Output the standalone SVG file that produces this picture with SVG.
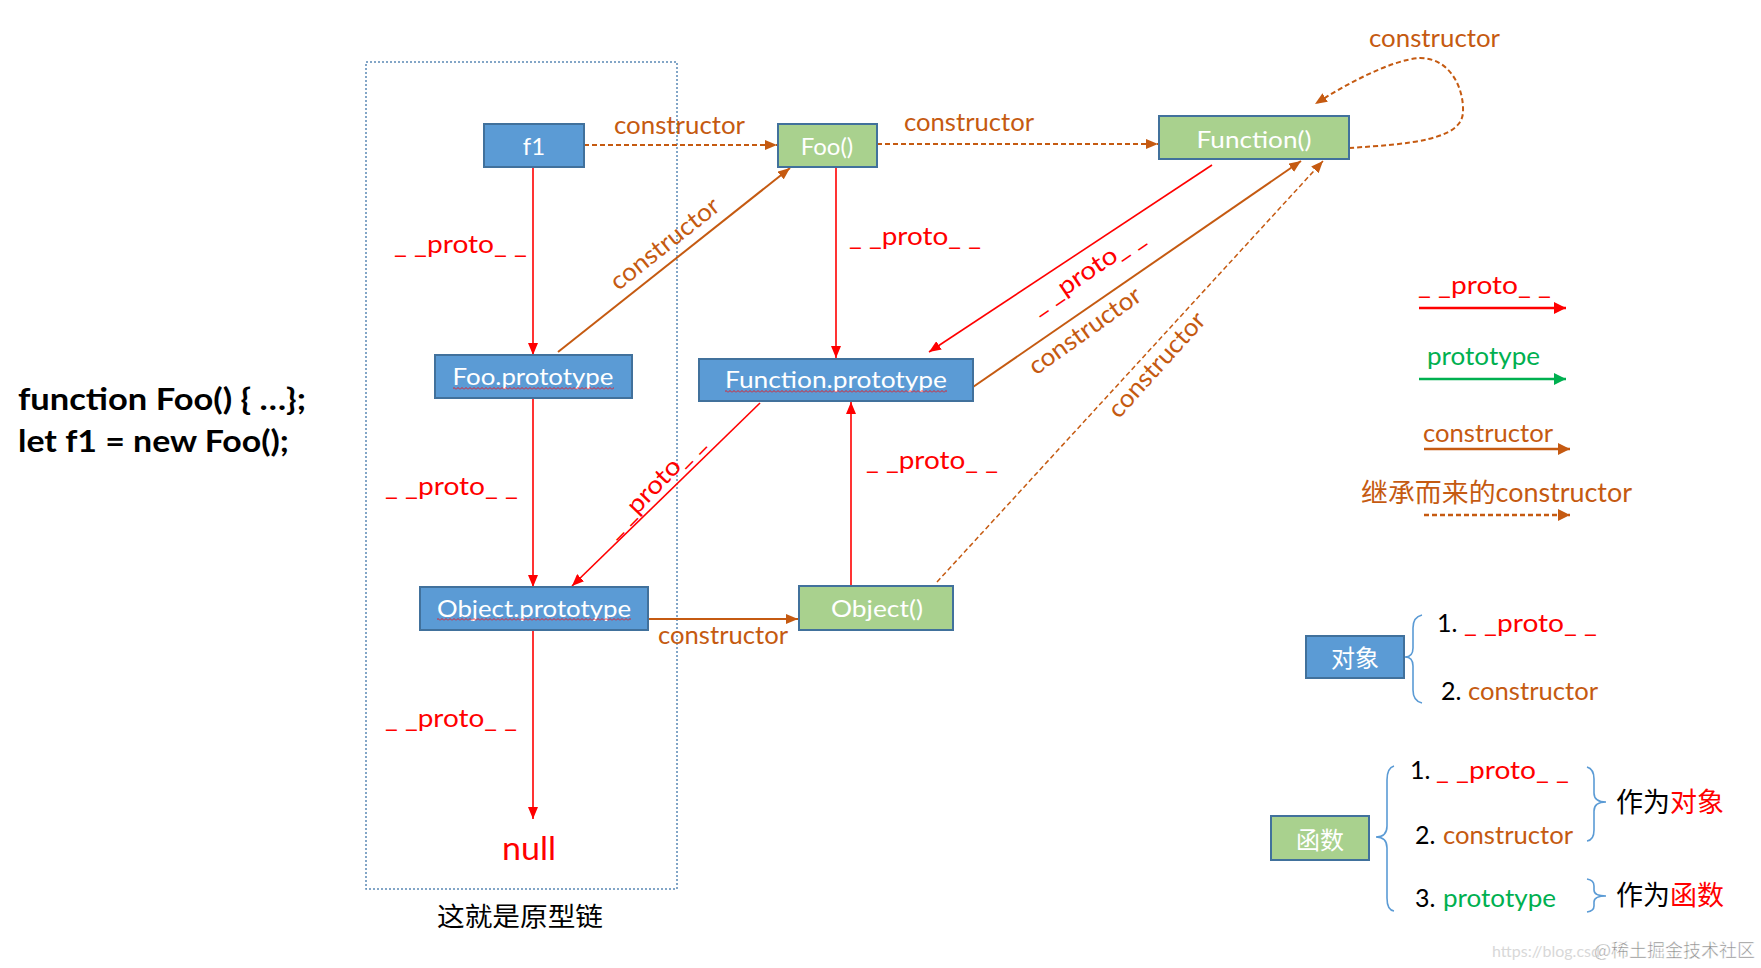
<svg xmlns="http://www.w3.org/2000/svg" width="1761" height="968" viewBox="0 0 1761 968">
<style>
.t{font-family:Lato,"Noto Sans CJK SC","Liberation Sans",sans-serif}
.cjk{font-family:"Noto Sans CJK SC",sans-serif}
.w{fill:#FFFFFF;font-size:24px;text-anchor:middle}
.red{fill:#FF0000}
.brn{fill:#C55A11}
.grn{fill:#00B050}
.blk{fill:#000000}
.lbl{font-size:25px}
.bbox{fill:#5B9BD5;stroke:#41719C;stroke-width:2}
.gbox{fill:#A9D18E;stroke:#41719C;stroke-width:2}
.lr{stroke:#FF0000;stroke-width:1.6;fill:none}
.lb{stroke:#C55A11;stroke-width:2;fill:none}
.lbd{stroke:#C55A11;stroke-width:2;fill:none;stroke-dasharray:5 3}
.lbt{stroke:#C55A11;stroke-width:1.5;fill:none;stroke-dasharray:5 3}
.brace{stroke:#5B9BD5;stroke-width:1.6;fill:none}
</style>
<defs>
<marker id="aR" markerUnits="userSpaceOnUse" markerWidth="13" markerHeight="10" refX="12" refY="5" orient="auto"><path d="M0,0 L12,5 L0,10 z" fill="#FF0000"/></marker>
<marker id="aB" markerUnits="userSpaceOnUse" markerWidth="13" markerHeight="10" refX="12" refY="5" orient="auto"><path d="M0,0 L12,5 L0,10 z" fill="#C55A11"/></marker>
<marker id="aRL" markerUnits="userSpaceOnUse" markerWidth="13" markerHeight="12" refX="12" refY="6" orient="auto"><path d="M0,0 L12,6 L0,12 z" fill="#FF0000"/></marker>
<marker id="aGL" markerUnits="userSpaceOnUse" markerWidth="13" markerHeight="12" refX="12" refY="6" orient="auto"><path d="M0,0 L12,6 L0,12 z" fill="#00B050"/></marker>
<marker id="aBL" markerUnits="userSpaceOnUse" markerWidth="13" markerHeight="12" refX="12" refY="6" orient="auto"><path d="M0,0 L12,6 L0,12 z" fill="#C55A11"/></marker>
<pattern id="sq" width="4" height="3" patternUnits="userSpaceOnUse"><path d="M0,2.5 L2,0.5 L4,2.5" fill="none" stroke="#FF0000" stroke-width="0.8"/></pattern>
</defs>
<rect width="1761" height="968" fill="#FFFFFF"/>

<g id="code" class="t" font-weight="bold" font-size="31">
<text x="18" y="410" textLength="288" lengthAdjust="spacingAndGlyphs">function Foo() { …};</text>
<text x="18" y="452" textLength="271" lengthAdjust="spacingAndGlyphs">let f1 = new Foo();</text>
</g>

<g id="chain">
<rect x="366" y="62" width="311" height="827" fill="none" stroke="#5B89B5" stroke-width="1.5" stroke-dasharray="2 2"/>
<text x="520" y="926" class="cjk blk" font-size="26" text-anchor="middle" textLength="166" lengthAdjust="spacingAndGlyphs">这就是原型链</text>
</g>

<g id="connectors">
<line x1="584" y1="145" x2="777" y2="145" class="lbd" marker-end="url(#aB)"/>
<line x1="877" y1="144" x2="1158" y2="144" class="lbd" marker-end="url(#aB)"/>
<path d="M1349,148 C1410,144 1462,140 1463,112 C1464,88 1450,58 1420,58 C1390,60 1345,85 1315,104" class="lbd" marker-end="url(#aB)"/>
<line x1="533" y1="167" x2="533" y2="355" class="lr" marker-end="url(#aR)"/>
<line x1="533" y1="398" x2="533" y2="587" class="lr" marker-end="url(#aR)"/>
<line x1="533" y1="630" x2="533" y2="819" class="lr" marker-end="url(#aR)"/>
<line x1="558" y1="352" x2="790" y2="168" class="lb" marker-end="url(#aB)"/>
<line x1="836" y1="167" x2="836" y2="358" class="lr" marker-end="url(#aR)"/>
<line x1="1212" y1="165" x2="929" y2="352" class="lr" marker-end="url(#aR)"/>
<line x1="973" y1="387" x2="1301" y2="161" class="lb" marker-end="url(#aB)"/>
<line x1="937" y1="582" x2="1323" y2="161" class="lbt" marker-end="url(#aB)"/>
<line x1="760" y1="403" x2="572" y2="586" class="lr" marker-end="url(#aR)"/>
<line x1="851" y1="586" x2="851" y2="402" class="lr" marker-end="url(#aR)"/>
<line x1="648" y1="619" x2="798" y2="619" class="lb" marker-end="url(#aB)"/>
</g>

<g id="connector-labels" class="t lbl">
<text x="614" y="134" class="brn" textLength="131" lengthAdjust="spacingAndGlyphs">constructor</text>
<text x="904" y="131" class="brn" textLength="130" lengthAdjust="spacingAndGlyphs">constructor</text>
<text x="1369" y="47" class="brn" textLength="131" lengthAdjust="spacingAndGlyphs">constructor</text>
<text x="394" y="253" class="red" textLength="133" lengthAdjust="spacingAndGlyphs">_ _proto_ _</text>
<text x="849" y="245" class="red" textLength="132" lengthAdjust="spacingAndGlyphs">_ _proto_ _</text>
<text x="385" y="495" class="red" textLength="133" lengthAdjust="spacingAndGlyphs">_ _proto_ _</text>
<text x="866" y="469" class="red" textLength="132" lengthAdjust="spacingAndGlyphs">_ _proto_ _</text>
<text x="385" y="727" class="red" textLength="132" lengthAdjust="spacingAndGlyphs">_ _proto_ _</text>
<text x="658" y="644" class="brn" textLength="130" lengthAdjust="spacingAndGlyphs">constructor</text>
<text transform="translate(665,244) rotate(-38.5)" y="8" class="brn" text-anchor="middle" textLength="132" lengthAdjust="spacingAndGlyphs">constructor</text>
<text transform="translate(1092,278) rotate(-34)" y="0" class="red" text-anchor="middle" textLength="132" lengthAdjust="spacingAndGlyphs">_ _proto_ _</text>
<text transform="translate(1085,331) rotate(-35.5)" y="8" class="brn" text-anchor="middle" textLength="132" lengthAdjust="spacingAndGlyphs">constructor</text>
<text transform="translate(1157,365) rotate(-48)" y="8" class="brn" text-anchor="middle" textLength="132" lengthAdjust="spacingAndGlyphs">constructor</text>
<text transform="translate(654,486) rotate(-46)" y="8" class="red" text-anchor="middle" textLength="132" lengthAdjust="spacingAndGlyphs">_ _proto_ _</text>
</g>

<g id="f1">
<rect x="484" y="124" width="100" height="43" class="bbox"/>
<text x="534" y="155" class="t w" font-size="25">f1</text>
</g>
<g id="Foo">
<rect x="778" y="124" width="99" height="43" class="gbox"/>
<text x="827" y="155" class="t w">Foo()</text>
</g>
<g id="Function">
<rect x="1159" y="116" width="190" height="43" class="gbox"/>
<text x="1254" y="148" class="t w" textLength="115" lengthAdjust="spacingAndGlyphs">Function()</text>
</g>
<g id="FooPrototype">
<rect x="435" y="355" width="197" height="43" class="bbox"/>
<text x="533" y="385" class="t w" textLength="161" lengthAdjust="spacingAndGlyphs">Foo.prototype</text>
<rect x="453" y="387" width="161" height="3" fill="url(#sq)"/>
</g>
<g id="FunctionPrototype">
<rect x="699" y="359" width="274" height="42" class="bbox"/>
<text x="836" y="388" class="t w" textLength="222" lengthAdjust="spacingAndGlyphs">Function.prototype</text>
<rect x="725" y="390" width="222" height="3" fill="url(#sq)"/>
</g>
<g id="ObjectPrototype">
<rect x="420" y="587" width="228" height="43" class="bbox"/>
<text x="534" y="617" class="t w" textLength="194" lengthAdjust="spacingAndGlyphs">Object.prototype</text>
<rect x="437" y="618" width="194" height="3" fill="url(#sq)"/>
</g>
<g id="Object">
<rect x="799" y="586" width="154" height="44" class="gbox"/>
<text x="877" y="617" class="t w" textLength="92" lengthAdjust="spacingAndGlyphs">Object()</text>
</g>
<g id="null">
<text x="502" y="860" class="t red" font-size="33" textLength="54" lengthAdjust="spacingAndGlyphs">null</text>
</g>

<g id="legend" class="t lbl">
<text x="1418" y="294" class="red" textLength="133" lengthAdjust="spacingAndGlyphs">_ _proto_ _</text>
<line x1="1419" y1="308" x2="1566" y2="308" stroke="#FF0000" stroke-width="2.5" marker-end="url(#aRL)"/>
<text x="1427" y="365" class="grn" textLength="113" lengthAdjust="spacingAndGlyphs">prototype</text>
<line x1="1419" y1="379" x2="1566" y2="379" stroke="#00B050" stroke-width="2.5" marker-end="url(#aGL)"/>
<text x="1423" y="442" class="brn" textLength="130" lengthAdjust="spacingAndGlyphs">constructor</text>
<line x1="1424" y1="449" x2="1570" y2="449" stroke="#C55A11" stroke-width="2.5" marker-end="url(#aBL)"/>
<text x="1361" y="502" class="brn" font-size="26" textLength="271" lengthAdjust="spacingAndGlyphs">继承而来的constructor</text>
<line x1="1424" y1="515" x2="1570" y2="515" stroke="#C55A11" stroke-width="2.5" stroke-dasharray="5 3" marker-end="url(#aBL)"/>
</g>

<g id="object-box">
<rect x="1306" y="636" width="98" height="42" class="bbox"/>
<text x="1355" y="667" class="cjk w" font-size="26">对象</text>
<path d="M1422,615 Q1413,617 1413,628 L1413,648 Q1413,657 1405,657 Q1413,657 1413,666 L1413,690 Q1413,701 1422,703" class="brace"/>
<text x="1437" y="632" class="t lbl"><tspan class="blk">1. </tspan><tspan x="1464" class="red" textLength="133" lengthAdjust="spacingAndGlyphs">_ _proto_ _</tspan></text>
<text x="1441" y="700" class="t lbl"><tspan class="blk">2. </tspan><tspan x="1468" class="brn" textLength="130" lengthAdjust="spacingAndGlyphs">constructor</tspan></text>
</g>

<g id="function-box">
<rect x="1271" y="816" width="98" height="44" class="gbox"/>
<text x="1320" y="849" class="cjk w" font-size="26">函数</text>
<path d="M1394,766 Q1387,768 1387,780 L1387,826 Q1387,837 1376,837 Q1387,837 1387,848 L1387,898 Q1387,910 1394,911" class="brace"/>
<text x="1410" y="779" class="t lbl"><tspan class="blk">1. </tspan><tspan x="1436" class="red" textLength="133" lengthAdjust="spacingAndGlyphs">_ _proto_ _</tspan></text>
<text x="1415" y="844" class="t lbl"><tspan class="blk">2. </tspan><tspan x="1443" class="brn" textLength="130" lengthAdjust="spacingAndGlyphs">constructor</tspan></text>
<text x="1415" y="907" class="t lbl"><tspan class="blk">3. </tspan><tspan x="1443" class="grn" textLength="113" lengthAdjust="spacingAndGlyphs">prototype</tspan></text>
<path d="M1587,767 Q1594,769 1594,779 L1594,793 Q1594,802 1606,802 Q1594,802 1594,811 L1594,830 Q1594,840 1587,841" class="brace"/>
<path d="M1587,879 Q1594,880 1594,886 L1594,890 Q1594,896 1606,896 Q1594,896 1594,902 L1594,906 Q1594,911 1587,912" class="brace"/>
<text x="1616" y="812" class="cjk" font-size="27"><tspan class="blk">作为</tspan><tspan class="red">对象</tspan></text>
<text x="1616" y="905" class="cjk" font-size="27"><tspan class="blk">作为</tspan><tspan class="red">函数</tspan></text>
</g>

<g id="watermark">
<text x="1492" y="957" class="t" font-size="16" fill="#D8D8D8">https://blog.csd</text>
<text x="1594" y="957" class="cjk" font-size="18" fill="#8A8A8A" stroke="#FFFFFF" stroke-width="0.5">@稀土掘金技术社区</text>
</g>
</svg>
